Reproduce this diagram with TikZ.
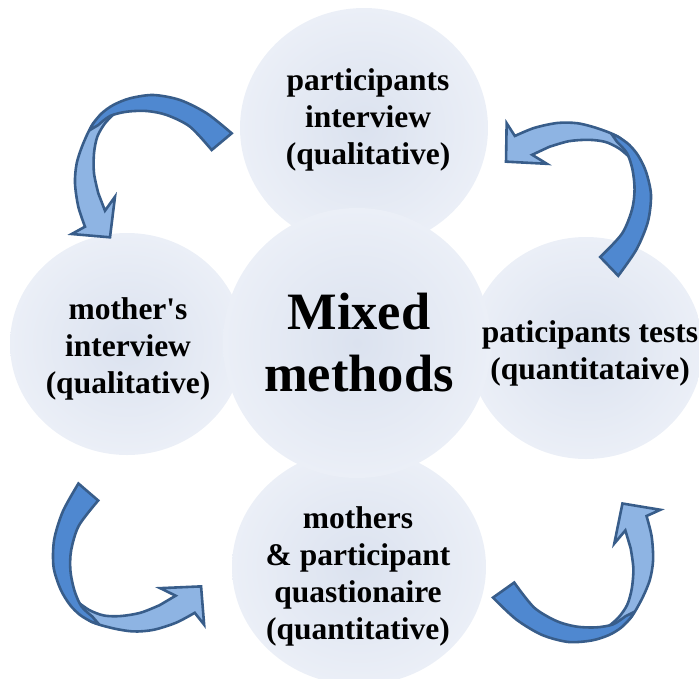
\documentclass[tikz,border=0pt]{standalone}
\usepackage{fontspec}
\setmainfont{Liberation Serif}
\usetikzlibrary{shapes.geometric}

\definecolor{bubbleIn}{RGB}{219,226,239}
\definecolor{bubbleOut}{RGB}{235,239,247}
\definecolor{arrowFront}{RGB}{79,136,208}
\definecolor{arrowBack}{RGB}{142,180,227}
\definecolor{arrowLine}{RGB}{56,93,138}

% One twisted curved arrow: back band with head first, front band over it.
% Drawn in its own frame; the tail midpoint is (222,141.7).
\newcommand\twistarrow{%
  \filldraw[ribbon, fill=arrowBack]
    plot[smooth] coordinates {(108,110) (93.3,123.3) (83.3,143.3) (76.7,163.3)
      (75,183.3) (78.3,206.7) (85,226.7)}
    -- (71.7,234) -- (110,237.3) -- (115,196.7) -- (105,210.7)
    -- plot[smooth] coordinates {(98.3,193.3) (94,173.3) (94,153.3) (97.3,136.7)
      (105,123.3) (116,112)} -- cycle;
  \filldraw[ribbon, fill=arrowFront]
    plot[smooth] coordinates {(231.7,133.3) (206.7,113.3) (180,100) (153.3,95)
      (130,98.3) (113.3,105) (101.7,113.3) (93.3,123.3) (90,130)}
    -- plot[smooth] coordinates {(98.3,125) (110,116) (126.7,111.7) (146.7,111)
      (166.7,115) (190,126.7) (211.7,150)} -- cycle;
}

\begin{document}
\begin{tikzpicture}[x=1pt,y=-1pt,
  bubble/.style={ellipse, inner sep=0pt, shading=radial,
    inner color=bubbleIn, outer color=bubbleOut},
  bubbletext/.style={font=\bfseries\fontsize{31.5}{37}\selectfont,
    align=center, inner sep=0pt},
  ribbon/.style={draw=arrowLine, line width=2.6pt, line join=miter}]
\useasboundingbox (0,0) rectangle (699,678);

% outer bubbles
\node[bubble, minimum width=248pt, minimum height=240pt] (top)   at (364,128) {};
\node[bubble, minimum width=234pt, minimum height=222pt] (left)  at (127,344) {};
\node[bubble, minimum width=234pt, minimum height=222pt] (right) at (586,348) {};
\node[bubble, minimum width=254pt, minimum height=236pt] (bottom) at (359,567) {};
% central bubble
\node[bubble, minimum width=268pt, minimum height=270pt] (hub) at (357,343) {};

% cycle of curved arrows
\begin{scope}
  \twistarrow
\end{scope}
\begin{scope}[shift={(609.2,266.7)}, rotate=-86, shift={(-222,-141.7)}]
  \twistarrow
\end{scope}
\begin{scope}[shift={(503.3,590)}, rotate=-184.5, shift={(-222,-141.7)}]
  \twistarrow
\end{scope}
\begin{scope}[shift={(88.3,491.7)}, rotate=-260.5, shift={(-222,-141.7)}]
  \twistarrow
\end{scope}

% texts
\node[bubbletext] (topText) at (368,120) {participants\\interview\\(qualitative)};
\node[bubbletext] (leftText) at (128,349) {mother\textquotesingle s\\interview\\(qualitative)};
\node[bubbletext] (rightText) at (590,353) {paticipants tests\\(quantitataive)};
\node[bubbletext] (bottomText) at (358,576) {mothers\\\& participant\\quastionaire\\(quantitative)};
\node[bubbletext, font=\bfseries\fontsize{52.5}{62}\selectfont] (hubText) at (359,343) {Mixed\\methods};
\end{tikzpicture}
\end{document}
